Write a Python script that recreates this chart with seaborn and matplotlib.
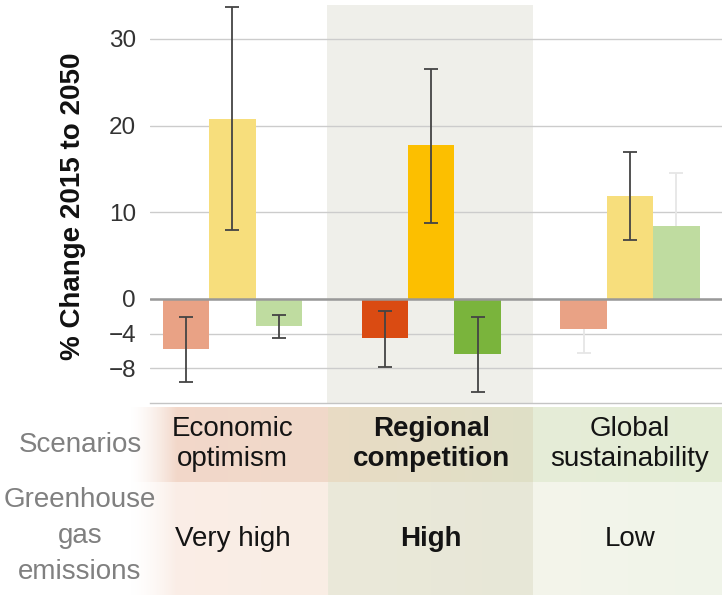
import matplotlib
matplotlib.use("Agg")
import matplotlib.pyplot as plt
import matplotlib.colors as mcolors
import seaborn as sns
import numpy as np
import pandas as pd

# Data
#--------------------------------------------------------------------------------
scenarios = ['Economic optimism', 'Regional competition', 'Global sustainability']
scenario_labels = ['Economic\noptimism', 'Regional\ncompetition', 'Global\nsustainability']
emission_labels = ['Very high', 'High', 'Low']
series = ['series 1', 'series 2', 'series 3']

# % change 2015 to 2050, one list per series (in scenario order)
series1_values = [-5.8, -4.5, -3.5]
series2_values = [20.8, 17.7, 11.9]
series3_values = [-3.1, -6.4, 8.4]

# error bar ends (low, high)
series1_low = [-9.6, -7.8, -6.2]
series1_high = [-2.1, -1.4, -1.0]
series2_low = [8.0, 8.8, 6.8]
series2_high = [33.7, 26.5, 17.0]
series3_low = [-4.5, -10.7, 2.5]
series3_high = [-1.9, -2.1, 14.5]

yticks = [-8, -4, 0, 10, 20, 30]
ytick_labels = ['\u22128', '\u22124', '0', '10', '20', '30']

# colours: rows = scenario, cols = series
bar_colors = [['#E9A285', '#F7DE7C', '#BFDCA0'],
              ['#DA4B12', '#FCBF00', '#7AB43C'],
              ['#E9A285', '#F7DE7C', '#BFDCA0']]
# the two whisker sets in the last scenario are barely visible
err_colors = [['#444444', '#444444', '#444444'],
              ['#444444', '#444444', '#444444'],
              ['#E6E6E6', '#444444', '#E6E6E6']]

# Set aesthetics
#--------------------------------------------------------------------------------
sns.set_style("white")
plt.rcParams['font.family'] = ['Liberation Sans', 'DejaVu Sans']

df = pd.DataFrame({
    'scenario': scenarios * 3,
    'series': np.repeat(series, 3),
    'change': series1_values + series2_values + series3_values,
})
lows = [series1_low, series2_low, series3_low]
highs = [series1_high, series2_high, series3_high]
values = [series1_values, series2_values, series3_values]

fig = plt.figure(figsize=(7.22, 5.95), dpi=100)
ax = fig.add_axes([150/722, 192/595, 572/722, 398/595])

xmin, xmax = -0.415, 2.463
ax.axvspan(0.478, 1.512, color='#EFEFEA', lw=0, zorder=0)

sns.barplot(data=df, x='scenario', y='change', hue='series', order=scenarios,
            hue_order=series, width=0.7, errorbar=None, legend=False, ax=ax,
            saturation=1)

bar_containers = list(ax.containers)
for i, cont in enumerate(bar_containers):
    for j, bar in enumerate(cont.patches):
        bar.set_facecolor(bar_colors[j][i])
        bar.set_edgecolor('none')
        xc = bar.get_x() + bar.get_width() / 2
        y = values[i][j]
        c = err_colors[j][i]
        ax.errorbar(xc, y, yerr=[[y - lows[i][j]], [highs[i][j] - y]], fmt='none',
                    ecolor=c, elinewidth=1.3, capsize=5, capthick=1.3,
                    zorder=4 if c == '#444444' else 0.8)

ax.set_xlim(xmin, xmax)
ax.set_ylim(-12.0, 33.9)
ax.set_yticks(yticks)
ax.set_yticklabels(ytick_labels)
ax.tick_params(axis='y', length=0, pad=10, labelsize=17.5, labelcolor='#333333')
ax.set_xticks([])
ax.set_xlabel('')
ax.grid(axis='y', color='#CCCCCC', lw=1)
ax.set_axisbelow(True)
ax.axhline(0, color='#999999', lw=1.8, zorder=3)
for s in ['top', 'right', 'left']:
    ax.spines[s].set_visible(False)
ax.spines['bottom'].set_color('#C4C4C4')
ax.spines['bottom'].set_linewidth(1)
ax.set_ylabel('% Change 2015 to 2050', fontsize=20, fontweight='bold', color='#111111')
ax.yaxis.set_label_coords(-0.112, 0.495)

# Bottom table with scenario descriptions
#--------------------------------------------------------------------------------
tab = fig.add_axes([0, 0, 1, 188/595])
tab_left = xmin - 150/198.7
tab.set_xlim(tab_left, xmax)
tab.set_ylim(0, 1)
tab.axis('off')

split = 113/188

def gradient(ax_, x0, x1, y0, y1, c0, c1, fade=None):
    n = 200
    t = np.linspace(0, 1, n)
    a = np.array(mcolors.to_rgba(c0))
    b = np.array(mcolors.to_rgba(c1))
    img = a[None, :] * (1 - t[:, None]) + b[None, :] * t[:, None]
    if fade is not None:
        xs = np.linspace(x0, x1, n)
        img[:, 3] = np.clip((xs - x0) / (fade - x0), 0, 1) ** 1.5
    ax_.imshow(img[None, :, :], extent=[x0, x1, y0, y1], aspect='auto',
               interpolation='bilinear', zorder=0)

gradient(tab, -0.52, 0.478, split, 1, '#F3D7CA', '#F0D9C9', fade=-0.28)
gradient(tab, -0.52, 0.478, 0, split, '#FBEEE7', '#F9EDE4', fade=-0.28)
gradient(tab, 0.478, 1.512, split, 1, '#E9DBC4', '#DFE0C7')
gradient(tab, 0.478, 1.512, 0, split, '#EBE9DA', '#E7E7D7')
gradient(tab, 1.512, xmax, split, 1, '#E6EDD8', '#E3ECD4')
gradient(tab, 1.512, xmax, 0, split, '#F4F4EB', '#F0F5E9')
tab.set_xlim(tab_left, xmax)
tab.set_ylim(0, 1)

for k in range(3):
    w = 'bold' if k == 1 else 'normal'
    tab.text(k, (595-444)/188, scenario_labels[k], ha='center', va='center',
             fontsize=20, fontweight=w, color='#141414', linespacing=1.15)
    tab.text(k, (595-539)/188, emission_labels[k], ha='center', va='center',
             fontsize=20, fontweight=w, color='#141414')

row_x = tab_left + 80/198.7
tab.text(row_x, (595-445)/188, 'Scenarios', ha='center', va='center',
         fontsize=20, color='#808080')
tab.text(row_x, (595-536)/188, 'Greenhouse\ngas\nemissions', ha='center', va='center',
         fontsize=20, color='#808080', linespacing=1.5)

plt.savefig('out.png', dpi=100)
plt.close()
